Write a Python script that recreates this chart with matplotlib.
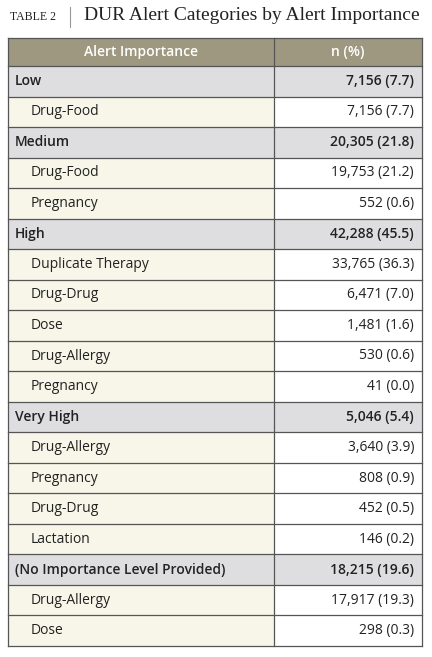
import matplotlib.pyplot as plt
from matplotlib.patches import Rectangle

TITLE_LABEL = "TABLE 2"
TITLE = "DUR Alert Categories by Alert Importance"
HEADERS = ["Alert Importance", "n (%)"]

# (label, value, is_group)
LABELS = ["Low", "Drug-Food", "Medium", "Drug-Food", "Pregnancy", "High",
          "Duplicate Therapy", "Drug-Drug", "Dose", "Drug-Allergy", "Pregnancy",
          "Very High", "Drug-Allergy", "Pregnancy", "Drug-Drug", "Lactation",
          "(No Importance Level Provided)", "Drug-Allergy", "Dose"]
VALUES = ["7,156 (7.7)", "7,156 (7.7)", "20,305 (21.8)", "19,753 (21.2)", "552 (0.6)",
          "42,288 (45.5)", "33,765 (36.3)", "6,471 (7.0)", "1,481 (1.6)", "530 (0.6)",
          "41 (0.0)", "5,046 (5.4)", "3,640 (3.9)", "808 (0.9)", "452 (0.5)",
          "146 (0.2)", "18,215 (19.6)", "17,917 (19.3)", "298 (0.3)"]
GROUPS = [True, False, True, False, False, True, False, False, False, False,
          False, True, False, False, False, False, True, False, False]

HEADER_BG = "#9f9880"
GROUP_BG = "#dedee0"
SUB_BG = "#f7f6e9"
LINE = "#555555"
SANS = "Open Sans"
SERIF = "Liberation Serif"

W, H = 432, 657
fig = plt.figure(figsize=(W / 100, H / 100), dpi=100)
ax = fig.add_axes([0, 0, 1, 1])
ax.set_xlim(0, W)
ax.set_ylim(H, 0)
ax.axis("off")

# title
ax.text(10, 17, TITLE_LABEL, family=SERIF, fontsize=8.5, va="center", color="#222222")
ax.plot([70, 70], [7, 27], color="#999999", lw=0.8)
ax.text(84, 16, TITLE, family=SERIF, fontsize=14, va="center", color="#222222")

left, mid, right = 8, 274, 422
top, head_h = 38, 28
row_h = (646 - top - head_h) / len(LABELS)

ax.add_patch(Rectangle((left, top), right - left, head_h, fc=HEADER_BG, ec="none"))
ax.text((left + mid) / 2, top + head_h / 2, HEADERS[0], family=SANS, fontsize=10,
        color="white", weight="semibold", ha="center", va="center")
ax.text((mid + right) / 2, top + head_h / 2, HEADERS[1], family=SANS, fontsize=10,
        color="white", weight="semibold", ha="center", va="center")

for i, (lab, val, grp) in enumerate(zip(LABELS, VALUES, GROUPS)):
    y0 = top + head_h + i * row_h
    yc = y0 + row_h / 2
    if grp:
        ax.add_patch(Rectangle((left, y0), right - left, row_h, fc=GROUP_BG, ec="none"))
        ax.text(left + 7, yc, lab, family=SANS, fontsize=10, weight="semibold",
                color="#222222", va="center")
        ax.text(right - 8, yc, val, family=SANS, fontsize=10, weight="semibold",
                color="#222222", va="center", ha="right")
    else:
        ax.add_patch(Rectangle((left, y0), mid - left, row_h, fc=SUB_BG, ec="none"))
        ax.text(left + 23, yc, lab, family=SANS, fontsize=10, color="#222222", va="center")
        ax.text(right - 8, yc, val, family=SANS, fontsize=10, color="#222222",
                va="center", ha="right")
    ax.plot([left, right], [y0, y0], color=LINE, lw=0.9)

bottom = top + head_h + len(LABELS) * row_h
ax.plot([left, right], [bottom, bottom], color=LINE, lw=0.9)
ax.plot([left, right], [top, top], color=LINE, lw=0.9)
ax.plot([left, left], [top, bottom], color=LINE, lw=0.9)
ax.plot([right, right], [top, bottom], color=LINE, lw=0.9)
ax.plot([mid, mid], [top, bottom], color=LINE, lw=0.9)

fig.savefig("out.png", dpi=100)
